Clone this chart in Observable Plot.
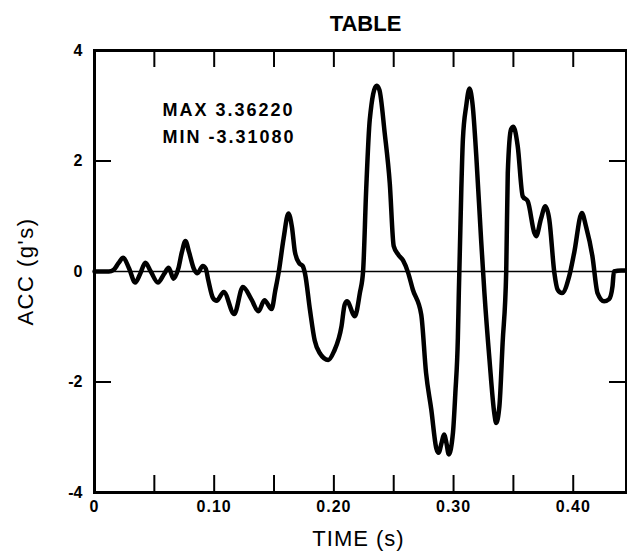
<!DOCTYPE html>
<html>
<head>
<meta charset="utf-8">
<script src="https://cdn.jsdelivr.net/npm/d3@7"></script>
<script src="https://cdn.jsdelivr.net/npm/@observablehq/plot@0.6"></script>
<style>
  html, body { margin: 0; padding: 0; background: #fff; }
  svg { font-family: "Liberation Sans", Arial, Helvetica, sans-serif; }
  .ls1 text { letter-spacing: 1px; }
  .ls2 text { letter-spacing: 2px; }
  .ls15 text { letter-spacing: 1.5px; }
</style>
</head>
<body>
<div id="chart"></div>
<script>
const chartTitle = "TABLE";
const xLabel = "TIME (s)";
const yLabel = "ACC (g's)";
const maxText = "MAX 3.36220";
const minText = "MIN -3.31080";

const time = [
  0, 0.012, 0.016, 0.020, 0.024, 0.029, 0.034, 0.038, 0.0425, 0.047,
  0.053, 0.058, 0.062, 0.066, 0.070, 0.073, 0.076, 0.079, 0.083, 0.086,
  0.0905, 0.093, 0.095, 0.099, 0.102, 0.108, 0.1167, 0.124, 0.131, 0.137,
  0.142, 0.148, 0.151, 0.154, 0.158, 0.162, 0.165, 0.1675, 0.171, 0.174,
  0.176, 0.180, 0.184, 0.188, 0.1953, 0.200, 0.2064, 0.209, 0.211, 0.2175,
  0.2217, 0.2244, 0.227, 0.230, 0.2356, 0.238, 0.2425, 0.2467, 0.250, 0.254,
  0.2578, 0.262, 0.266, 0.273, 0.277, 0.2814, 0.2856, 0.2875, 0.290, 0.292,
  0.294, 0.296, 0.2995, 0.3015, 0.3036, 0.3044, 0.3065, 0.3078, 0.3106, 0.3133,
  0.316, 0.319, 0.323, 0.3258, 0.330, 0.334, 0.3356, 0.3383, 0.341, 0.344,
  0.3453, 0.348, 0.350, 0.3536, 0.3578, 0.362, 0.3675, 0.369, 0.373, 0.3767,
  0.380, 0.3842, 0.387, 0.3906, 0.3967, 0.4008, 0.4072, 0.4106, 0.416, 0.4203,
  0.4258, 0.430, 0.4328, 0.434, 0.440, 0.4445
];
const acc = [
  0, 0, 0.03, 0.15, 0.25, 0.05, -0.2, -0.05, 0.16, 0.0,
  -0.2, -0.05, 0.07, -0.13, 0.05, 0.35, 0.55, 0.35, 0.05, -0.03,
  0.1, 0.05, -0.15, -0.48, -0.53, -0.37, -0.77, -0.28, -0.5, -0.72,
  -0.52, -0.68, -0.35, 0.0, 0.6, 1.05, 0.8, 0.35, 0.15, 0.1,
  -0.05, -0.69, -1.25, -1.47, -1.6, -1.45, -0.99, -0.6, -0.54, -0.81,
  -0.39, 0.0, 1.48, 2.75, 3.36, 3.29, 2.5, 1.6, 0.46, 0.3,
  0.2, -0.02, -0.33, -0.78, -1.83, -2.5, -3.2, -3.28, -3.1, -2.95,
  -3.1, -3.31, -2.92, -2.2, -1.2, -0.39, 1.5, 2.39, 3.0, 3.31,
  3.0, 2.09, 0.58, -0.39, -1.59, -2.56, -2.74, -2.44, -1.29, 0.0,
  1.78, 2.57, 2.62, 2.27, 1.36, 1.27, 0.7, 0.64, 0.95, 1.18,
  0.94, -0.02, -0.33, -0.39, -0.08, 0.34, 1.06, 0.82, 0.28, -0.39,
  -0.54, -0.5, -0.27, 0.0, 0.02, 0.02
];

const xTickMarks = [0.05, 0.10, 0.15, 0.20, 0.25, 0.30, 0.35, 0.40];
const xTickLabels = [0, 0.10, 0.20, 0.30, 0.40];
const yTickMarks = [-2, 2];
const yTickLabels = [-4, -2, 0, 2, 4];

const series = time.map((t, i) => ({t, a: acc[i]}));

const W = 627, H = 551;
const mTop = 50, mBottom = 59, mLeft = 94, mRight = 1;
const plotH = H - mTop - mBottom;
const plotW = W - mLeft - mRight;
const tickLen = 17;
const font = "Liberation Sans, Arial, Helvetica, sans-serif";

const chart = Plot.plot({
  width: W,
  height: H,
  marginTop: mTop,
  marginBottom: mBottom,
  marginLeft: mLeft,
  marginRight: mRight,
  style: {fontFamily: font, background: "#fff", color: "#000"},
  x: {domain: [0, 0.4445]},
  y: {domain: [-4, 4]},
  marks: [
    Plot.ruleY([0], {stroke: "#000", strokeWidth: 1.4}),
    Plot.ruleX(xTickMarks, {stroke: "#000", strokeWidth: 2, insetTop: plotH - tickLen}),
    Plot.ruleX(xTickMarks, {stroke: "#000", strokeWidth: 2, insetBottom: plotH - tickLen}),
    Plot.ruleY(yTickMarks, {stroke: "#000", strokeWidth: 2, insetRight: plotW - tickLen}),
    Plot.ruleY(yTickMarks, {stroke: "#000", strokeWidth: 2, insetLeft: plotW - tickLen}),
    Plot.frame({stroke: "#000", strokeWidth: 3}),
    Plot.line(series, {
      x: "t", y: "a", curve: "monotone-x",
      stroke: "#000", strokeWidth: 4.5, strokeLinejoin: "round", strokeLinecap: "round"
    }),
    Plot.axisX(xTickLabels, {
      tickSize: 0, tickPadding: 8, label: null, className: "ls1",
      tickFormat: d => d === 0 ? "0" : d.toFixed(2),
      fontSize: 16, fontWeight: "bold", fill: "#000"
    }),
    Plot.axisY(yTickLabels, {
      tickSize: 0, tickPadding: 12, label: null,
      tickFormat: d => String(d),
      fontSize: 16, fontWeight: "bold", fill: "#000"
    }),
    Plot.text([chartTitle], {
      frameAnchor: "top", dx: 5, dy: -20, lineAnchor: "bottom",
      fontSize: 22, fontWeight: "bold", fill: "#000"
    }),
    Plot.text([xLabel], {
      frameAnchor: "bottom", dx: -2, dy: 53, lineAnchor: "bottom", className: "ls1",
      fontSize: 22, fill: "#000"
    }),
    Plot.text([yLabel], {
      frameAnchor: "left", dx: -62, rotate: -90, lineAnchor: "bottom", textAnchor: "middle",
      className: "ls15", fontSize: 22, fill: "#000"
    }),
    Plot.text([maxText], {
      frameAnchor: "top-left", dx: 68, dy: 65, lineAnchor: "bottom", textAnchor: "start",
      className: "ls2", fontSize: 18, fontWeight: "bold", fill: "#000"
    }),
    Plot.text([minText], {
      frameAnchor: "top-left", dx: 68, dy: 92, lineAnchor: "bottom", textAnchor: "start",
      className: "ls2", fontSize: 18, fontWeight: "bold", fill: "#000"
    })
  ]
});
document.getElementById("chart").appendChild(chart);
</script>
</body>
</html>
